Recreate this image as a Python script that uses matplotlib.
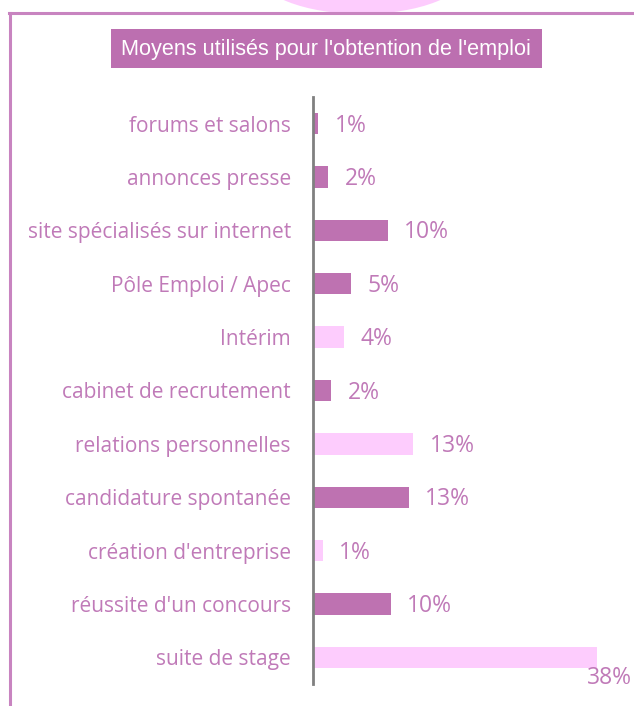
import matplotlib
matplotlib.use('Agg')
import matplotlib.pyplot as plt
from matplotlib.patches import Ellipse, Rectangle
from matplotlib.lines import Line2D

# données
categories = ["forums et salons", "annonces presse", "site spécialisés sur internet",
              "Pôle Emploi / Apec", "Intérim", "cabinet de recrutement",
              "relations personnelles", "candidature spontanée",
              "création d'entreprise", "réussite d'un concours", "suite de stage"]
values = [0.7, 2.0, 10.0, 5.1, 4.1, 2.4, 13.4, 12.8, 1.3, 10.4, 38.0]
light = [False, False, False, False, True, False, True, False, True, False, True]
title = "Moyens utilisés pour l'obtention de l'emploi"

dark_col = '#BE72B1'
light_col = '#FDCCFD'
text_col = '#C07AB8'
frame_col = '#C884C0'

W, H = 634, 706
fig = plt.figure(figsize=(W / 100, H / 100), dpi=100)

def fx(px):
    return px / W

def fy(py):
    return 1 - py / H

# décor : ellipse rose + cadre
fig.patches.append(Ellipse((fx(362), fy(-28)), 210 / W, 84 / H, transform=fig.transFigure,
                           facecolor=light_col, edgecolor='none', zorder=0))
fig.add_artist(Line2D([fx(10), fx(10)], [fy(13), fy(H)], color=frame_col, lw=2.2))
fig.add_artist(Line2D([fx(9), fx(W)], [fy(13), fy(13)], color=frame_col, lw=2.2))

# titre
fig.patches.append(Rectangle((fx(111), fy(68)), (542 - 111) / W, (68 - 29) / H,
                             transform=fig.transFigure, facecolor='#BC6FB0', edgecolor='none'))
fig.text(fx(326), fy(49), title, color='white', fontsize=15.6, ha='center', va='center',
         family=['Liberation Sans Narrow', 'Liberation Sans'])

ax = fig.add_axes([fx(313), fy(684), 299 / W, (684 - 97) / H])
ypos = list(range(len(categories)))[::-1]
cols = [light_col if l else dark_col for l in light]
ax.barh(ypos, values, height=0.4, color=cols)
ax.set_xlim(0, 40)
ax.set_ylim(-0.5, len(categories) - 0.5)
ax.set_yticks(ypos)
ax.set_yticklabels(categories, family='Open Sans', fontsize=15, color=text_col)
ax.tick_params(axis='y', length=0, pad=16)
ax.set_xticks([])
for s in ['top', 'right', 'bottom']:
    ax.spines[s].set_visible(False)
ax.spines['left'].set_color('#808080')
ax.spines['left'].set_linewidth(2)

for y, v in zip(ypos, values):
    lab = f"{v:.0f}%"
    if v > 30:
        ax.annotate(lab, (v, y), xytext=(-7, -15), textcoords='offset points',
                    ha='left', va='center', fontsize=16.5, color=text_col, family='Open Sans',
                    annotation_clip=False)
    else:
        ax.annotate(lab, (v, y), xytext=(12, -1.5), textcoords='offset points',
                    ha='left', va='center', fontsize=16.5, color=text_col, family='Open Sans')

fig.savefig('out.png', dpi=100)
